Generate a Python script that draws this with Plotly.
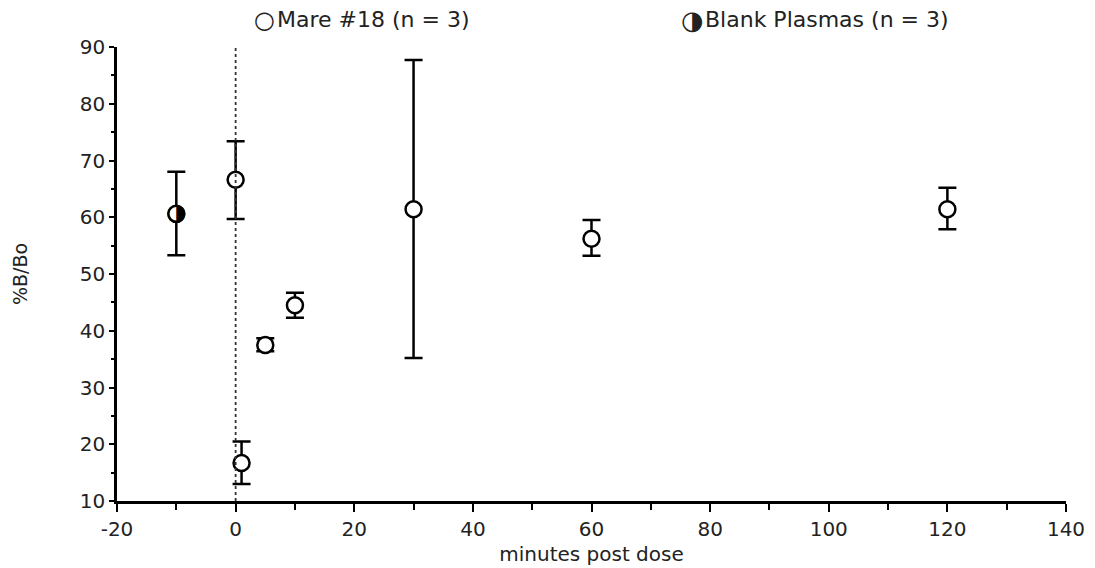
import plotly.graph_objects as go

# ---- data ----
mare_minutes = [0, 1, 5, 10, 30, 60, 120]
mare_mean = [66.6, 16.7, 37.5, 44.5, 61.4, 56.2, 61.4]
mare_upper = [73.4, 20.5, 38.7, 46.7, 87.7, 59.5, 65.2]
mare_lower = [59.7, 13.0, 36.4, 42.3, 35.2, 53.2, 57.9]

blank_minutes = [-10]
blank_mean = [60.6]
blank_upper = [68.0]
blank_lower = [53.3]

dose_time = 0
x_ticks = [-20, 0, 20, 40, 60, 80, 100, 120, 140]
y_ticks = [10, 20, 30, 40, 50, 60, 70, 80, 90]

mare_label = "Mare #18 (n = 3)"
blank_label = "Blank Plasmas (n = 3)"

FONT = "DejaVu Sans, Liberation Sans, sans-serif"
TXT = "#222222"

fig = go.Figure()


def err(mean, upper, lower):
    up = [u - m for u, m in zip(upper, mean)]
    dn = [m - l for l, m in zip(lower, mean)]
    return dict(type="data", symmetric=False, array=up, arrayminus=dn,
                color="black", thickness=2.5, width=9)


fig.add_vline(x=dose_time, line=dict(color="#333333", width=1.8, dash="dot"))

fig.add_trace(go.Scatter(
    x=blank_minutes, y=blank_mean, mode="markers", showlegend=False,
    error_y=err(blank_mean, blank_upper, blank_lower),
    marker=dict(symbol="circle", size=16, color="white",
                line=dict(color="black", width=2.5)),
))
fig.add_trace(go.Scatter(
    x=blank_minutes, y=blank_mean, mode="text", text=["\u25D1"] * len(blank_minutes),
    textposition="middle center", showlegend=False,
    textfont=dict(family="DejaVu Sans", size=23, color="black"),
))
fig.add_trace(go.Scatter(
    x=mare_minutes, y=mare_mean, mode="markers", showlegend=False,
    error_y=err(mare_mean, mare_upper, mare_lower),
    marker=dict(symbol="circle", size=16, color="white",
                line=dict(color="black", width=2.5)),
))

# legend-like header
fig.add_annotation(xref="paper", yref="paper", x=0.155, y=1.06,
                   xanchor="center", yanchor="middle", showarrow=False,
                   text="<b>\u25CB</b>", font=dict(family="DejaVu Sans", size=24, color=TXT))
fig.add_annotation(xref="paper", yref="paper", x=0.166, y=1.06,
                   xanchor="left", yanchor="middle", showarrow=False,
                   text=mare_label, font=dict(family=FONT, size=22, color=TXT))
fig.add_annotation(xref="paper", yref="paper", x=0.6065, y=1.06,
                   xanchor="center", yanchor="middle", showarrow=False,
                   text="\u25D1", font=dict(family="DejaVu Sans", size=26, color=TXT))
fig.add_annotation(xref="paper", yref="paper", x=0.6175, y=1.06,
                   xanchor="left", yanchor="middle", showarrow=False,
                   text=blank_label, font=dict(family=FONT, size=22, color=TXT))

axis_common = dict(
    showline=True, linecolor="black", linewidth=2.5, showgrid=False,
    zeroline=False, ticks="outside", tickcolor="black", tickwidth=2,
    tickfont=dict(family=FONT, size=20, color=TXT), mirror=False,
    automargin=False,
)

fig.update_xaxes(
    **axis_common, range=[-20, 140], tickvals=x_ticks,
    ticktext=[str(v) for v in x_ticks], ticklen=8,
    minor=dict(dtick=10, ticks="outside", ticklen=6, tickwidth=2, tickcolor="black"),
    title=dict(text="minutes post dose", font=dict(family=FONT, size=20, color=TXT),
               standoff=8),
)
fig.update_yaxes(
    **axis_common, range=[10, 90], tickvals=y_ticks,
    ticktext=[str(v) for v in y_ticks], ticklen=5,
    minor=dict(dtick=5, ticks="outside", ticklen=3, tickwidth=2, tickcolor="black"),
    title=dict(text="%B/Bo", font=dict(family=FONT, size=19, color=TXT),
               standoff=48),
)

fig.update_layout(
    width=1095, height=568,
    margin=dict(l=117, r=29, t=47, b=67),
    plot_bgcolor="white", paper_bgcolor="white",
    showlegend=False,
)

fig.write_html("out.html", config={"displayModeBar": False},
               post_script="document.body.style.margin='0';document.body.style.overflow='hidden';")
